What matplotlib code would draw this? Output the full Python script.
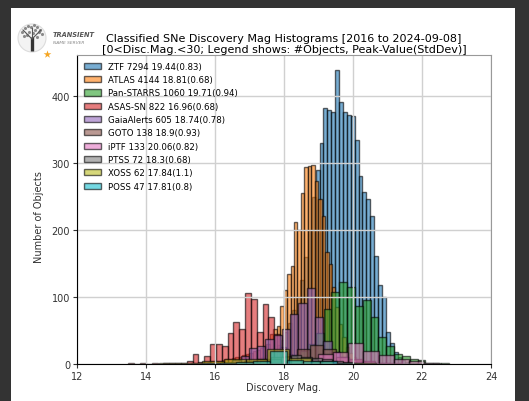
import numpy as np
import matplotlib
matplotlib.use("Agg")
from matplotlib import pyplot as plt
from matplotlib.patches import Rectangle, Circle

# histogram counts per survey: first bin edge, bin width, counts per bin
ztf_start, ztf_width = 15.98, 0.113
ztf_counts = [1, 1, 1, 1, 2, 2, 2, 3, 4, 5, 6, 8, 10, 13, 17, 22, 28, 36, 48, 62,
              80, 100, 125, 160, 200, 250, 290,
              330, 383, 380, 377, 440, 392, 377, 372, 371, 335, 281, 257, 247, 221,
              162, 118, 100, 48, 32, 18, 10, 6, 3, 2, 1, 1, 1]

atlas_start, atlas_width = 15.29, 0.1
atlas_counts = [1, 1, 2, 2, 3, 3, 4, 4, 5, 6, 7, 8, 9, 10, 11, 13, 15, 17, 19, 21,
                24, 27, 30, 45, 52, 57, 87, 110, 135, 147, 212, 200, 255, 294, 296,
                297, 273, 247, 222, 168, 150, 115, 85, 60, 40, 26, 16, 10, 6, 4, 2, 1]

ps_start, ps_width = 16.65, 0.227
ps_counts = [1, 2, 2, 3, 5, 7, 10, 14, 20, 30, 47, 82, 108, 122, 115, 87, 96, 70,
             40, 27, 15, 12, 8, 6, 2, 1, 1]

asassn_start, asassn_width = 13.49, 0.169
asassn_counts = [1, 0, 1, 0, 1, 0, 1, 1, 2, 2, 5, 15, 3, 12, 30, 30, 27, 47, 63, 53,
                 106, 97, 48, 90, 70, 45, 25, 15, 8, 5, 3, 2, 1]

gaia_start, gaia_width = 15.78, 0.24
gaia_counts = [1, 2, 3, 6, 12, 24, 27, 38, 43, 52, 75, 91, 113, 70, 35, 18, 10, 6,
               4, 2, 1, 1]

goto_start, goto_width = 16.09, 0.38
goto_counts = [2, 3, 5, 8, 10, 12, 22, 28, 22, 11, 8, 4, 2, 1]

iptf_start, iptf_width = 17.22, 0.44
iptf_counts = [2, 3, 5, 8, 15, 18, 31, 20, 14, 8, 4, 1]

ptss_start, ptss_width = 17.0, 0.3
ptss_counts = [2, 4, 7, 10, 13, 11, 9, 7, 4, 3, 2]

xoss_start, xoss_width = 14.37, 0.63
xoss_counts = [1, 2, 5, 7, 8, 22, 9, 5, 2, 1]

poss_start, poss_width = 15.65, 0.485
poss_counts = [1, 2, 3, 4, 20, 6, 5, 4, 2]

labels = ["ZTF 7294 19.44(0.83)", "ATLAS 4144 18.81(0.68)",
          "Pan-STARRS 1060 19.71(0.94)", "ASAS-SN 822 16.96(0.68)",
          "GaiaAlerts 605 18.74(0.78)", "GOTO 138 18.9(0.93)",
          "iPTF 133 20.06(0.82)", "PTSS 72 18.3(0.68)",
          "XOSS 62 17.84(1.1)", "POSS 47 17.81(0.8)"]

surveys = [(ztf_start, ztf_width, ztf_counts),
           (atlas_start, atlas_width, atlas_counts),
           (ps_start, ps_width, ps_counts),
           (asassn_start, asassn_width, asassn_counts),
           (gaia_start, gaia_width, gaia_counts),
           (goto_start, goto_width, goto_counts),
           (iptf_start, iptf_width, iptf_counts),
           (ptss_start, ptss_width, ptss_counts),
           (xoss_start, xoss_width, xoss_counts),
           (poss_start, poss_width, poss_counts)]

colors = plt.get_cmap("tab10").colors


def main():
    fig = plt.figure(figsize=(5.29, 4.02), dpi=100)
    fig.patch.set_facecolor("#333333")

    # page background + TNS logo, drawn in pixel coords
    deco = fig.add_axes([0, 0, 1, 1], zorder=-1)
    deco.set_xlim(0, 529)
    deco.set_ylim(402, 0)
    deco.axis("off")
    deco.add_patch(Rectangle((11, 9), 504, 400, facecolor="white", edgecolor="none"))
    deco.add_patch(Circle((32, 39), 14, facecolor="#f3f3f3", edgecolor="#dcdcdc", lw=0.8))
    deco.plot([32, 32], [38, 52], color="#333333", lw=2.4, solid_capstyle="butt")
    deco.plot([32, 26, 23], [40, 34, 31], color="#555555", lw=0.8)
    deco.plot([32, 38, 41], [40, 34, 31], color="#555555", lw=0.8)
    deco.plot([32, 32], [38, 29], color="#555555", lw=0.8)
    deco.scatter([22, 25, 28, 31, 34, 37, 40, 42, 24, 29, 35, 39, 27, 33, 37],
                 [33, 29, 27, 28, 26, 28, 31, 35, 37, 33, 31, 33, 36, 34, 38],
                 s=5, color="#8a8a8a", lw=0)
    deco.scatter([47], [55], marker="*", s=34, color="#f5a623", lw=0)
    deco.text(53, 35, "TRANSIENT", fontsize=4.8, style="italic", weight="bold",
              color="#555555", va="center")
    deco.text(53, 43, "NAME SERVER", fontsize=3.2, style="italic",
              color="#888888", va="center")

    ax = fig.add_axes([77 / 529, 1 - 365 / 402, 414 / 529, 309 / 402])
    for (start, width, counts), color, label in zip(surveys, colors, labels):
        edges = start + width * np.arange(len(counts))
        ax.bar(edges, counts, width=width, align="edge", color=color, alpha=0.6,
               edgecolor="black", linewidth=1, label=label)

    ax.set_xlim(12, 24)
    ax.set_xticks([12, 14, 16, 18, 20, 22, 24])
    ax.grid(True, color="#d0d0d0", linewidth=1)
    ax.tick_params(labelsize=7, colors="#333333", length=3, pad=2)
    for side in ["top", "right"]:
        ax.spines[side].set_color("#999999")
    ax.set_xlabel("Discovery Mag.", fontsize=7, color="#333333", labelpad=1)
    ax.set_ylabel("Number of Objects", fontsize=7, color="#333333", labelpad=6)
    ax.yaxis.set_label_coords(-0.08, 0.48)
    ax.set_title("Classified SNe Discovery Mag Histograms [2016 to 2024-09-08]\n"
                 "[0<Disc.Mag.<30; Legend shows: #Objects, Peak-Value(StdDev)]",
                 fontsize=8, pad=2, linespacing=1.15)
    ax.legend(loc="upper left", fontsize=6.2, frameon=False, labelspacing=0.5,
              borderaxespad=0.4)

    fig.savefig("out.png", dpi=100, facecolor=fig.get_facecolor())


main()
